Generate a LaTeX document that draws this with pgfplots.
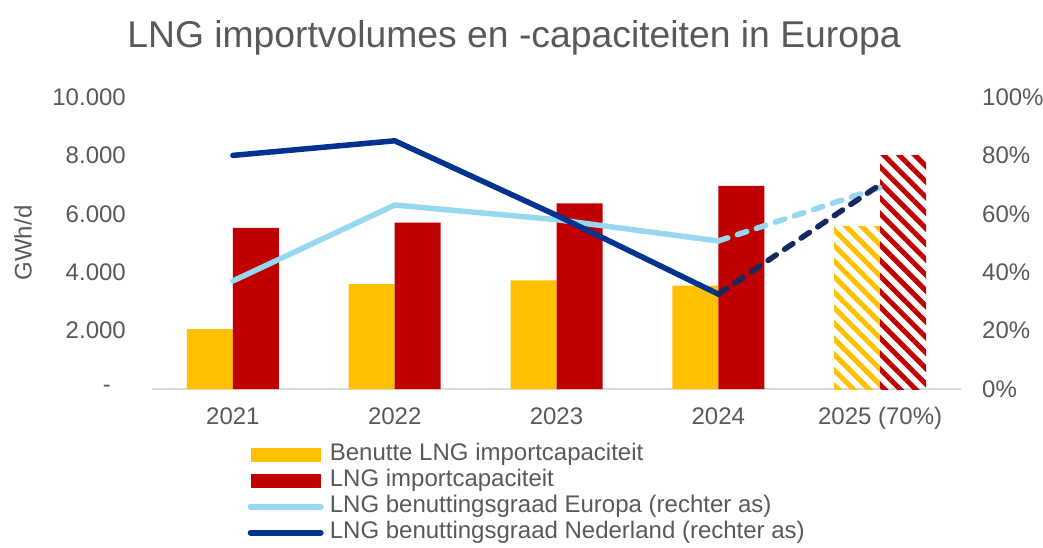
\documentclass[border=0pt]{standalone}
\usepackage{fontspec}
\setmainfont{Liberation Sans}
\usepackage{pgfplots}
\pgfplotsset{compat=1.18}
\usetikzlibrary{patterns.meta}
\definecolor{tgray}{HTML}{595959}
\definecolor{agray}{HTML}{D9D9D9}
\definecolor{cyellow}{HTML}{FFC000}
\definecolor{cred}{HTML}{C00000}
\definecolor{clblue}{HTML}{97D7F0}
\definecolor{cdblue}{HTML}{00338F}
\definecolor{cdblued}{HTML}{15295C}
\begin{document}
\begin{tikzpicture}
\useasboundingbox (0,0) rectangle (1043pt,547pt);
\node[anchor=base, text=tgray, font=\fontsize{37.3}{37.3}\selectfont, inner sep=0pt] at (514pt,499pt) {LNG importvolumes en -capaciteiten in Europa};
\begin{axis}[
  at={(152pt,158pt)}, anchor=south west,
  scale only axis, width=809pt, height=292pt,
  xmin=-0.5, xmax=4.5, ymin=0, ymax=10000,
  scaled y ticks=false,
  axis x line*=bottom, axis y line*=left,
  x axis line style={-, draw=agray, line width=1.5pt},
  y axis line style={draw=none},
  major tick length=0pt,
  xtick={0,1,2,3,4}, xticklabels={2021,2022,2023,2024,2025 (70\%)},
  ytick={0,2000,4000,6000,8000,10000}, yticklabels={-\rule{15pt}{0pt},2.000,4.000,6.000,8.000,10.000},
  ticklabel style={font=\fontsize{24}{24}\selectfont, text=tgray},
  yticklabel style={anchor=east, inner sep=0pt, xshift=-26pt},
  xticklabel style={anchor=base, inner sep=0pt, yshift=-35pt},
  ylabel={GWh/d},
  ylabel style={at={(axis description cs:-0.1595,0.5)}, anchor=center, font=\fontsize{24}{24}\selectfont, text=tgray, inner sep=0pt},
  /pgf/number format/assume math mode=true,
  clip=false,
]
\addplot[ybar, bar width=46pt, bar shift=-23pt, fill=cyellow, draw=none] coordinates {(0,2050) (1,3590) (2,3720) (3,3540)};
\addplot[ybar, bar width=46pt, bar shift=23pt, fill=cred, draw=none] coordinates {(0,5520) (1,5700) (2,6360) (3,6960)};
\addplot[ybar, bar width=46pt, bar shift=-23pt, draw=none, pattern={Lines[angle=-45, distance=11pt, line width=5pt]}, pattern color=cyellow] coordinates {(4,5580)};
\addplot[ybar, bar width=46pt, bar shift=23pt, draw=none, pattern={Lines[angle=-45, distance=11pt, line width=5pt]}, pattern color=cred] coordinates {(4,8000)};
\end{axis}
\begin{axis}[
  at={(152pt,158pt)}, anchor=south west,
  scale only axis, width=809pt, height=292pt,
  xmin=-0.5, xmax=4.5, ymin=0, ymax=100,
  axis x line=none, axis y line*=right,
  y axis line style={draw=none},
  major tick length=0pt,
  ytick={0,20,40,60,80,100}, yticklabels={0\%,20\%,40\%,60\%,80\%,100\%},
  ticklabel style={font=\fontsize{24}{24}\selectfont, text=tgray},
  yticklabel style={anchor=west, inner sep=0pt, xshift=21pt},
  /pgf/number format/assume math mode=true,
  clip=false,
  legend style={at={(axis description cs:0.118,-0.183)}, anchor=north west, draw=none, fill=none,
    font=\fontsize{24}{24}\selectfont, text=tgray, row sep=0pt, inner sep=0pt,
    nodes={inner sep=0pt, text height=18pt, text depth=8pt}},
  legend cell align=left,
]
\addlegendimage{legend image code/.code={\fill[cyellow] (3.5pt,-5.5pt) rectangle (73pt,7.5pt); \path (82pt,0pt);}}
\addlegendentry{Benutte LNG importcapaciteit}
\addlegendimage{legend image code/.code={\fill[cred] (3.5pt,-5.5pt) rectangle (73pt,7.5pt); \path (82pt,0pt);}}
\addlegendentry{LNG importcapaciteit}
\addlegendimage{legend image code/.code={\draw[clblue, line width=6pt, line cap=round] (3pt,1pt) -- (73pt,1pt); \path (82pt,0pt);}}
\addlegendentry{LNG benuttingsgraad Europa (rechter as)}
\addlegendimage{legend image code/.code={\draw[cdblue, line width=6pt, line cap=round] (3pt,1pt) -- (73pt,1pt); \path (82pt,0pt);}}
\addlegendentry{LNG benuttingsgraad Nederland (rechter as)}
\addplot[forget plot, clblue, line width=5.5pt, line cap=round, line join=round] coordinates {(0,37) (1,63) (2,58) (3,50.7)};
\addplot[forget plot, clblue, line width=5.5pt, line cap=round, dash pattern=on 10pt off 10pt] coordinates {(3,50.7) (4,69)};
\addplot[forget plot, cdblue, line width=5.5pt, line cap=round, line join=round] coordinates {(0,80) (1,85) (2,59.5) (3,32.5)};
\addplot[forget plot, cdblued, line width=5.5pt, line cap=round, dash pattern=on 10pt off 10pt] coordinates {(3,32.5) (4,70)};
\end{axis}
\end{tikzpicture}
\end{document}
